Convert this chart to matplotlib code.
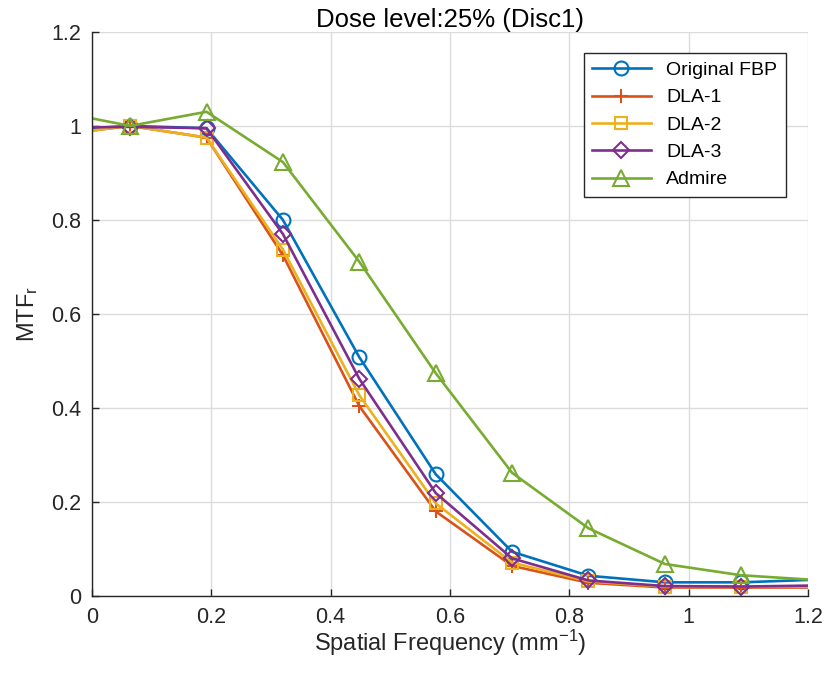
import matplotlib.pyplot as plt
from matplotlib.ticker import FixedLocator

plt.rcParams['font.family'] = ['Liberation Sans', 'DejaVu Sans']
plt.rcParams['mathtext.default'] = 'regular'

# spatial frequency (mm^-1); first and last entries are the axis edges
freq = [0.0, 0.064, 0.192, 0.320, 0.448, 0.576, 0.704, 0.832, 0.960, 1.088, 1.2]

fbp    = [0.995, 1.000, 0.995, 0.800, 0.508, 0.259, 0.094, 0.043, 0.029, 0.029, 0.034]
dla1   = [0.990, 1.000, 0.975, 0.725, 0.404, 0.180, 0.064, 0.028, 0.018, 0.018, 0.018]
dla2   = [0.990, 1.000, 0.975, 0.737, 0.427, 0.197, 0.071, 0.031, 0.020, 0.020, 0.020]
dla3   = [0.997, 0.998, 0.995, 0.770, 0.462, 0.219, 0.080, 0.033, 0.021, 0.020, 0.022]
admire = [1.016, 1.000, 1.030, 0.923, 0.711, 0.474, 0.262, 0.144, 0.068, 0.044, 0.035]

labels = ['Original FBP', 'DLA-1', 'DLA-2', 'DLA-3', 'Admire']
series = [fbp, dla1, dla2, dla3, admire]
colors = ['#0072BD', '#D95319', '#EDB120', '#7E2F8E', '#77AC30']
markers = ['o', '+', 's', 'D', '^']
msizes = [10, 10, 9, 8, 11]

ticks = [0, 0.2, 0.4, 0.6, 0.8, 1.0, 1.2]
tick_labels = ['0', '0.2', '0.4', '0.6', '0.8', '1', '1.2']

fig = plt.figure(figsize=(8.28, 6.78), dpi=100)
ax = fig.add_axes([0.111, 0.121, 0.865, 0.832])

for y, lab, c, m, ms in zip(series, labels, colors, markers, msizes):
    ax.plot(freq, y, color=c, marker=m, markersize=ms, markerfacecolor='none',
            markeredgewidth=1.5, linewidth=1.9, label=lab,
            markevery=list(range(1, len(freq) - 1)))

ax.set_xlim(0, 1.2)
ax.set_ylim(0, 1.2)
ax.xaxis.set_major_locator(FixedLocator(ticks))
ax.yaxis.set_major_locator(FixedLocator(ticks))
ax.set_xticklabels(tick_labels)
ax.set_yticklabels(tick_labels)
ax.tick_params(direction='in', length=5, width=1, colors='#262626',
               labelsize=15.5, pad=8)
ax.grid(True, color='#dcdcdc', linewidth=1)
ax.set_axisbelow(True)
for side in ['top', 'right']:
    ax.spines[side].set_visible(False)
for side in ['left', 'bottom']:
    ax.spines[side].set_color('#262626')
    ax.spines[side].set_linewidth(1)

ax.set_xlabel('Spatial Frequency (mm$^{-1}$)', fontsize=17, color='#262626',
              labelpad=0)
ax.set_ylabel('MTF$_r$', fontsize=17, color='#262626', labelpad=8)
ax.set_title('Dose level:25% (Disc1)', fontsize=18.5, color='black', pad=3)

leg = ax.legend(loc='upper right', bbox_to_anchor=(0.969, 0.963), fontsize=14,
                handlelength=3.0, fancybox=False, framealpha=1,
                edgecolor='#262626', borderpad=0.45, labelspacing=0.5,
                borderaxespad=0)
leg.get_frame().set_linewidth(1)

plt.savefig('out.png', dpi=100)
